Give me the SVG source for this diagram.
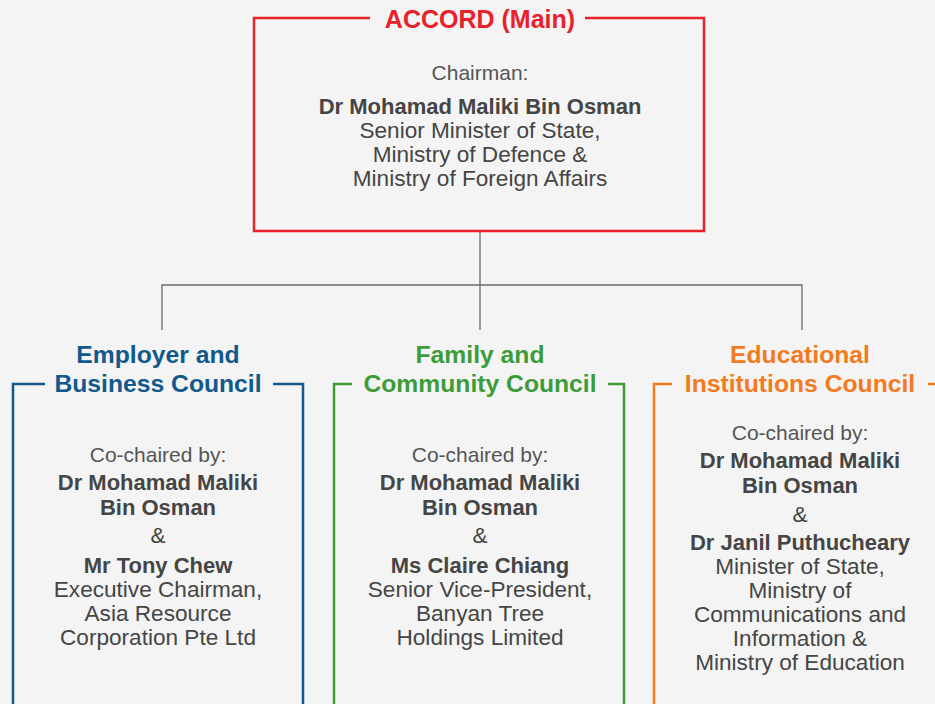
<svg xmlns="http://www.w3.org/2000/svg" width="935" height="704" viewBox="0 0 935 704">
<style>
text{font-family:"Liberation Sans",Arial,sans-serif;text-anchor:middle;fill:#454545}
.t{font-weight:bold;font-size:24.7px}
.mt{font-weight:bold;font-size:25px;fill:#e8212b}
.r{font-size:22.6px}
.b{font-weight:bold;font-size:22px}
.l{font-size:21px;fill:#555}
.box{fill:none;stroke-width:2.5}
.conn{fill:none;stroke:#6b6b6b;stroke-width:1.3}
</style>
<rect width="935" height="704" fill="#f3f4f3"/>
<g id="connectors">
<path class="conn" d="M480,231 V330 M162,330 V285 H802 V330"/>
</g>
<g id="main">
<path class="box" stroke="#e8212b" d="M370,18 H254 V231 H704 V18 H585"/>
<text class="mt" x="480" y="28">ACCORD (Main)</text>
<text class="l" x="480" y="80">Chairman:</text>
<text class="b" x="480" y="114">Dr Mohamad Maliki Bin Osman</text>
<text class="r" x="480" y="138">Senior Minister of State,</text>
<text class="r" x="480" y="162">Ministry of Defence &amp;</text>
<text class="r" x="480" y="186">Ministry of Foreign Affairs</text>
</g>
<g id="employer">
<path class="box" stroke="#11598c" d="M45,384 H13 V710 M273,384 H303 V710"/>
<text class="t" x="158" y="363" style="fill:#11598c">Employer and</text>
<text class="t" x="158" y="392" style="fill:#11598c">Business Council</text>
<text class="l" x="158" y="462">Co-chaired by:</text>
<text class="b" x="158" y="490">Dr Mohamad Maliki</text>
<text class="b" x="158" y="515">Bin Osman</text>
<text class="r" x="158" y="543">&amp;</text>
<text class="b" x="158" y="573">Mr Tony Chew</text>
<text class="r" x="158" y="597">Executive Chairman,</text>
<text class="r" x="158" y="621">Asia Resource</text>
<text class="r" x="158" y="645">Corporation Pte Ltd</text>
</g>
<g id="family">
<path class="box" stroke="#3d9c3a" d="M352,384 H334 V710 M608,384 H624 V710"/>
<text class="t" x="480" y="363" style="fill:#3d9c3a">Family and</text>
<text class="t" x="480" y="392" style="fill:#3d9c3a">Community Council</text>
<text class="l" x="480" y="462">Co-chaired by:</text>
<text class="b" x="480" y="490">Dr Mohamad Maliki</text>
<text class="b" x="480" y="515">Bin Osman</text>
<text class="r" x="480" y="543">&amp;</text>
<text class="b" x="480" y="573">Ms Claire Chiang</text>
<text class="r" x="480" y="597">Senior Vice-President,</text>
<text class="r" x="480" y="621">Banyan Tree</text>
<text class="r" x="480" y="645">Holdings Limited</text>
</g>
<g id="educational">
<path class="box" stroke="#f47a20" d="M672,384 H654 V710 M928,384 H945"/>
<text class="t" x="800" y="363" style="fill:#f47a20">Educational</text>
<text class="t" x="800" y="392" style="fill:#f47a20">Institutions Council</text>
<text class="l" x="800" y="440">Co-chaired by:</text>
<text class="b" x="800" y="468">Dr Mohamad Maliki</text>
<text class="b" x="800" y="493">Bin Osman</text>
<text class="r" x="800" y="522">&amp;</text>
<text class="b" x="800" y="550">Dr Janil Puthucheary</text>
<text class="r" x="800" y="574">Minister of State,</text>
<text class="r" x="800" y="598">Ministry of</text>
<text class="r" x="800" y="622">Communications and</text>
<text class="r" x="800" y="646">Information &amp;</text>
<text class="r" x="800" y="670">Ministry of Education</text>
</g>
</svg>
